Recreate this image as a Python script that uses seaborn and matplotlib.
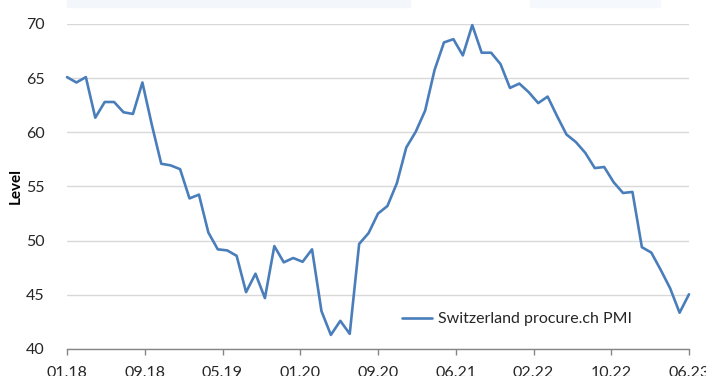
import numpy as np
import pandas as pd
import matplotlib
matplotlib.use("Agg")
import matplotlib.pyplot as plt
from matplotlib.patches import Rectangle
import seaborn as sns

# Monthly PMI readings
pmi = [65.1, 64.6, 65.1, 61.35, 62.8, 62.8, 61.85, 61.7, 64.6, 60.7,
       57.1, 56.95, 56.6, 53.9, 54.25, 50.75, 49.2, 49.1, 48.6, 45.25,
       46.95, 44.7, 49.5, 48.0, 48.4, 48.05, 49.2, 43.5, 41.3, 42.6,
       41.4, 49.7, 50.7, 52.5, 53.2, 55.3, 58.6, 60.05, 62.0, 65.75,
       68.3, 68.6, 67.1, 69.9, 67.35, 67.35, 66.3, 64.1, 64.5, 63.7,
       62.7, 63.3, 61.5, 59.8, 59.1, 58.1, 56.7, 56.8, 55.4, 54.4,
       54.5, 49.4, 48.9, 47.3, 45.6, 43.35, 45.05]
tick_labels = ["01.18", "09.18", "05.19", "01.20", "09.20",
               "06.21", "02.22", "10.22", "06.23"]
y_ticks = [40, 45, 50, 55, 60, 65, 70]
series_name = "Switzerland procure.ch PMI"

df = pd.DataFrame({"period": np.arange(len(pmi)), "value": pmi,
                   "series": series_name})

sns.set_theme(style="white")
plt.rcParams["font.family"] = ["Lato", "DejaVu Sans"]

W, H = 706, 376
fig = plt.figure(figsize=(W / 100, H / 100), dpi=100)
fig.patch.set_facecolor("white")

# faint header strip along the top edge
fig.patches.append(Rectangle((67 / W, 1 - 7 / H), (410 - 67) / W, 7 / H,
                             transform=fig.transFigure, color="#f3f7fc", zorder=0))
fig.patches.append(Rectangle((530 / W, 1 - 7 / H), (660 - 530) / W, 7 / H,
                             transform=fig.transFigure, color="#f5f8fd", zorder=0))

left, right, top, bottom = 67, 689, 24, 349
ax = fig.add_axes([left / W, 1 - bottom / H, (right - left) / W, (bottom - top) / H])

sns.lineplot(data=df, x="period", y="value", hue="series",
             palette=["#4a7ebb"], linewidth=1.9, ax=ax, clip_on=False)

ax.set_xlim(0, len(pmi) - 1)
ax.set_ylim(y_ticks[0], y_ticks[-1])
ax.set_yticks(y_ticks)
ax.set_xticks(np.linspace(0, len(pmi) - 1, len(tick_labels)))
ax.set_xticklabels(tick_labels)

ax.grid(axis="y", color="#d9d9d9", linewidth=1.0)
ax.set_axisbelow(True)
for side in ["left", "right", "top"]:
    ax.spines[side].set_visible(False)
ax.spines["bottom"].set_color("#868686")
ax.spines["bottom"].set_linewidth(1.0)

ax.tick_params(axis="x", which="major", bottom=True, direction="out",
               length=4, width=1.0, color="#868686", pad=8,
               labelsize=11.5, labelcolor="#262626")
ax.tick_params(axis="y", left=False, pad=10, labelsize=11.5, labelcolor="#262626")

ax.set_xlabel("")
ax.set_ylabel("Level", fontsize=11, fontweight="bold", color="#000000")
ax.yaxis.set_label_coords((23 - left) / (right - left), 0.5)

ax.legend(loc="center left", bbox_to_anchor=(402 / W, 1 - 319 / H),
          bbox_transform=fig.transFigure, frameon=False, fontsize=11.5,
          handlelength=1.9, handletextpad=0.35, borderpad=0, borderaxespad=0)

fig.savefig("out.png", dpi=100)
